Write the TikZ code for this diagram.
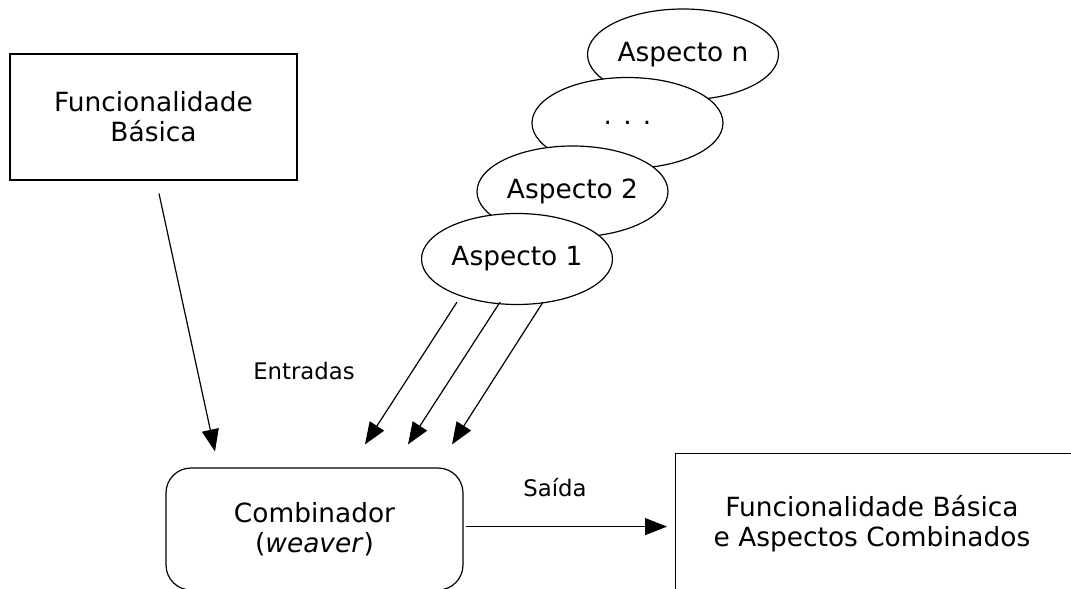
\documentclass[tikz,border=0pt]{standalone}
\usepackage{fontspec}
\setmainfont{DejaVu Sans}
\usetikzlibrary{arrows.meta,shapes.geometric}
\tikzset{
  caixa/.style={draw, line width=0.6pt, align=center, inner sep=0pt},
  aspecto/.style={draw, ellipse, fill=white, line width=0.6pt, inner sep=0pt,
    minimum width=95.5pt, minimum height=45.5pt},
  seta/.style={->, line width=0.6pt},
  rotulo/.style={font=\fontsize{11.4}{13}\selectfont}
}
\begin{document}
\begin{tikzpicture}[x=0.5pt, y=-0.5pt, >={Triangle[length=11pt,width=8.5pt]},
  font=\fontsize{13.2}{15}\selectfont]
\useasboundingbox (0,0) rectangle (1071,589);
\clip (0,0) rectangle (1071,589);
% caixas
\node[caixa, minimum width=143.5pt, minimum height=63pt] (func) at (153.5,117) {Funcionalidade\\Básica};
\node[caixa, rounded corners=12.5pt, minimum width=148.5pt, minimum height=61pt] (comb) at (314.5,529) {Combinador\\(\textit{weaver})};
\node[caixa, anchor=north west, minimum width=220pt, minimum height=73pt] (final) at (675,453) {};
\node[align=center] (finaltxt) at (872,524) {Funcionalidade Básica\\e Aspectos Combinados};
% aspectos
\node[aspecto] (aspn) at (683,54.5) {Aspecto n};
\node[aspecto] (aspd) at (627.5,123) {. . .};
\node[aspecto] (asp2) at (572.5,191.5) {Aspecto 2};
\node[aspecto] (asp1) at (517,259) {Aspecto 1};
% setas
\draw[seta] ([xshift=2.75pt,yshift=-6.5pt]func.south) -- ([xshift=-49.75pt,yshift=8pt]comb.north);
\foreach \a/\b in {-30/25.25, -8.5/46.75, 13/68.75}
{
    \draw[seta] ([xshift=\a pt,yshift=1.5pt]asp1.south) -- ([xshift=\b pt,yshift=11.5pt]comb.north);
}
\draw[seta] ([xshift=1pt]comb.east |- final.west) -- ([xshift=-4pt]final.west);
\node[rotulo] (entradas) at (304,371) {Entradas};
\node[rotulo] (saida) at (555,488) {Saída};
\end{tikzpicture}
\end{document}
